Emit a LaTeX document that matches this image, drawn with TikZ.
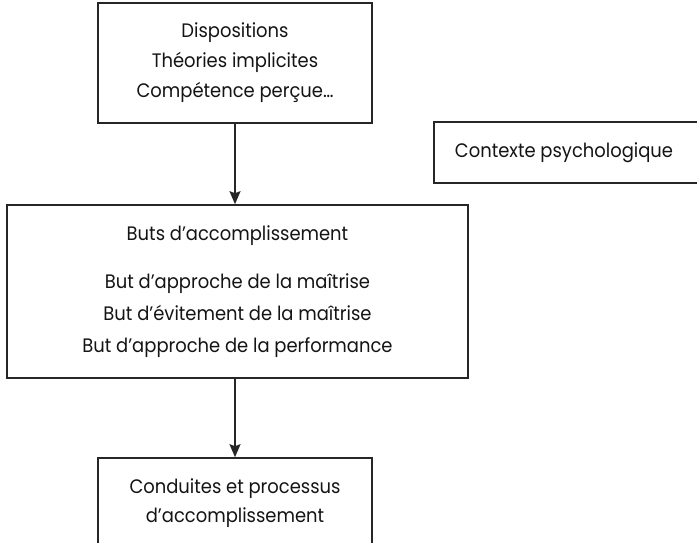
\documentclass[tikz,border=0pt]{standalone}
\usepackage{fontspec}
\setmainfont{Poppins}[FakeStretch=0.92]
\usetikzlibrary{arrows.meta}
\begin{document}
\begin{tikzpicture}[x=1pt,y=-1pt,
  box/.style={draw=black!85, line width=1.6pt, fill=white, inner sep=0pt,
    align=center, text=black!92},
  txt/.style={font=\fontsize{19.5}{#1}\selectfont},
  txt/.default=30,
  link/.style={draw=black!85, line width=1.4pt, -{Stealth[length=13pt,width=11pt,inset=2pt]}}]
\clip (0,0) rectangle (697,543);

% upper box: antecedents
\node[box, txt=30, minimum width=274pt, minimum height=120pt] (disp) at (235,63)
  {Dispositions\\Théories implicites\\Compétence perçue…};

% context box, running off the right edge
\node[box, txt=30, minimum width=272pt, minimum height=61pt] (ctx) at (570,152.5)
  {\hspace*{-12pt}Contexte psychologique};

% central box: achievement goals
\node[box, txt=32, minimum width=461pt, minimum height=173pt] (buts) at (237.5,291.5)
  {Buts d’accomplissement\\[16pt]But d’approche de la maîtrise\\But d’évitement de la maîtrise\\But d’approche de la performance};

% lower box, running off the bottom edge
\node[box, txt=29, minimum width=274pt, minimum height=90pt] (cond) at (235,503)
  {Conduites et processus\\d’accomplissement};

\draw[link] (disp.south) -- (disp.south |- buts.north);
\draw[link] (buts.south -| disp.south) -- (cond.north);
\end{tikzpicture}
\end{document}
